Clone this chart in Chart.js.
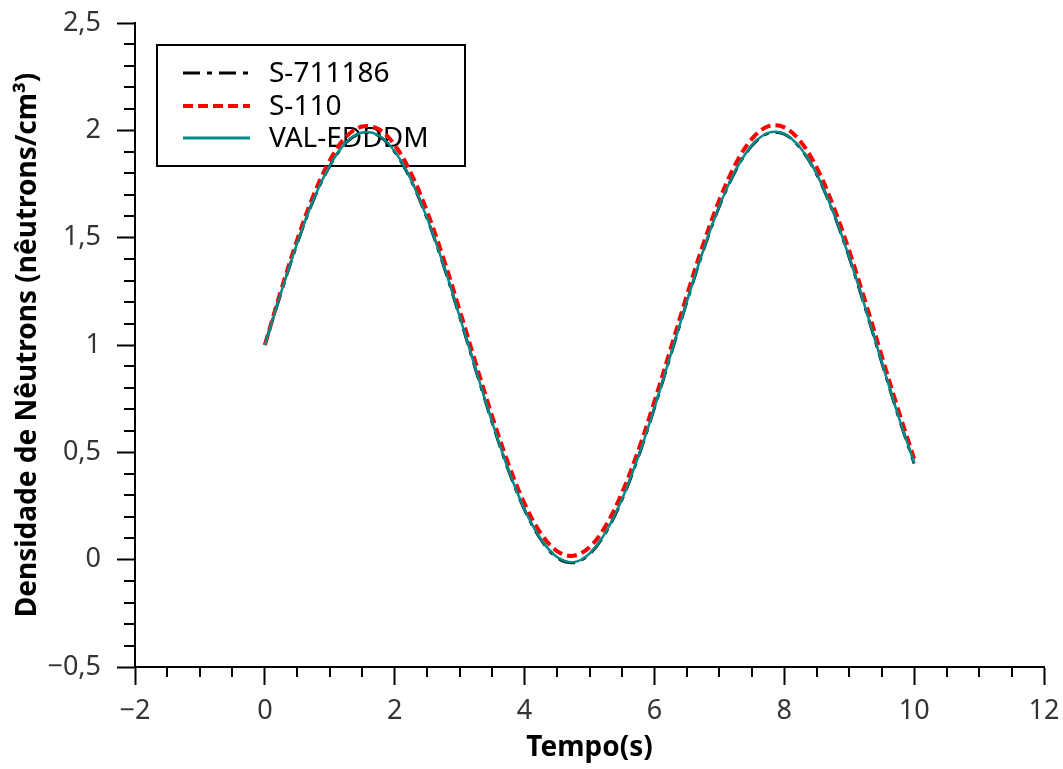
<!DOCTYPE html>
<html lang="pt">
<head>
<meta charset="UTF-8">
<title>Densidade de Nêutrons</title>
<script src="https://cdn.jsdelivr.net/npm/chart.js"></script>
<style>
    html, body { margin: 0; padding: 0; background: #fff; }
    #wrap { width: 1063px; height: 769px; }
</style>
</head>
<body>
<div id="wrap"><canvas id="grafico"></canvas></div>
<script>
    // tempo (s)
    const tempo = [0, 0.25, 0.5, 0.75, 1, 1.25, 1.5, 1.75, 2, 2.25, 2.5, 2.75, 3, 3.25, 3.5, 3.75,
        4, 4.25, 4.5, 4.75, 5, 5.25, 5.5, 5.75, 6, 6.25, 6.5, 6.75, 7, 7.25, 7.5, 7.75,
        8, 8.25, 8.5, 8.75, 9, 9.25, 9.5, 9.75, 10];

    // densidade de nêutrons para cada código
    const s711186 = [1.000, 1.243, 1.474, 1.676, 1.834, 1.942, 1.988, 1.975, 1.900, 1.768, 1.588,
        1.372, 1.131, 0.882, 0.639, 0.418, 0.232, 0.094, 0.010, -0.014, 0.026, 0.126, 0.279,
        0.477, 0.706, 0.952, 1.201, 1.437, 1.645, 1.812, 1.928, 1.986, 1.982, 1.916, 1.794,
        1.620, 1.407, 1.169, 0.919, 0.674, 0.448];
    const s110 = [1.000, 1.255, 1.492, 1.698, 1.860, 1.970, 2.018, 2.006, 1.932, 1.801, 1.621,
        1.405, 1.163, 0.913, 0.669, 0.447, 0.261, 0.123, 0.040, 0.018, 0.058, 0.158, 0.311,
        0.508, 0.737, 0.983, 1.232, 1.468, 1.676, 1.843, 1.960, 2.018, 2.014, 1.948, 1.826,
        1.652, 1.439, 1.200, 0.950, 0.703, 0.470];
    const valEdddm = [1.000, 1.245, 1.476, 1.678, 1.836, 1.944, 1.990, 1.977, 1.902, 1.770, 1.590,
        1.374, 1.133, 0.884, 0.641, 0.420, 0.234, 0.096, 0.012, -0.012, 0.028, 0.128, 0.281,
        0.479, 0.708, 0.954, 1.203, 1.439, 1.647, 1.814, 1.930, 1.988, 1.984, 1.918, 1.796,
        1.622, 1.409, 1.171, 0.921, 0.676, 0.450];

    // trecho mais grosso sobre o eixo x
    const baseX = [-2, 1.42];
    const baseY = [-0.5, -0.5];

    const nomes = ['S-711186', 'S-110', 'VAL-EDDDM'];

    const pontos = (xs, ys) => xs.map((x, i) => ({ x: x, y: ys[i] }));

    const fmt = v => (v < 0 ? '\u2212' : '') + String(Math.abs(v)).replace('.', ',');

    // traços menores dos eixos
    const minorTicks = {
        id: 'minorTicks',
        afterDraw(chart) {
            const ctx = chart.ctx;
            const xs = chart.scales.x, ys = chart.scales.y;
            ctx.save();
            ctx.strokeStyle = '#000';
            ctx.lineWidth = 2;
            ctx.beginPath();
            for (let v = -1.5; v < 12; v += 0.5) {
                if (Math.abs(v % 2) < 1e-9) continue;
                const px = Math.round(xs.getPixelForValue(v));
                ctx.moveTo(px, xs.top);
                ctx.lineTo(px, xs.top + 10);
            }
            for (let k = -4; k < 25; k++) {
                if (k % 5 === 0) continue;
                const py = Math.round(ys.getPixelForValue(k / 10));
                ctx.moveTo(ys.right, py);
                ctx.lineTo(ys.right - 11, py);
            }
            ctx.stroke();
            ctx.restore();
        }
    };

    // legenda em caixa, no canto superior esquerdo
    const legendaCaixa = {
        id: 'legendaCaixa',
        beforeDatasetsDraw(chart) {
            const ctx = chart.ctx;
            ctx.save();
            ctx.strokeStyle = '#000';
            ctx.lineWidth = 2;
            ctx.strokeRect(157, 45, 308, 121);
            ctx.font = '28px "Noto Sans"';
            ctx.textBaseline = 'middle';
            ctx.fillStyle = '#000';
            const linhas = [73, 106, 138];
            nomes.forEach((nome, i) => {
                const ds = chart.data.datasets[i];
                ctx.beginPath();
                ctx.strokeStyle = ds.borderColor;
                ctx.lineWidth = i === 1 ? 4 : 3;
                ctx.setLineDash(ds.borderDash || []);
                ctx.moveTo(183, linhas[i]);
                ctx.lineTo(250, linhas[i]);
                ctx.stroke();
                ctx.setLineDash([]);
                ctx.fillText(nome, 269, linhas[i] + 1);
            });
            ctx.restore();
        }
    };

    new Chart(document.getElementById('grafico'), {
        type: 'line',
        data: {
            datasets: [
                {
                    label: nomes[0],
                    data: pontos(tempo, s711186),
                    borderColor: '#000000',
                    borderWidth: 3,
                    borderDash: [17, 7, 5, 7],
                    order: 3
                },
                {
                    label: nomes[1],
                    data: pontos(tempo, s110),
                    borderColor: '#ff0000',
                    borderWidth: 4,
                    borderDash: [10, 5],
                    order: 2
                },
                {
                    label: nomes[2],
                    data: pontos(tempo, valEdddm),
                    borderColor: '#008b8b',
                    borderWidth: 2.5,
                    order: 1
                },
                {
                    label: '',
                    data: pontos(baseX, baseY),
                    borderColor: '#000000',
                    borderWidth: 2,
                    tension: 0,
                    clip: false,
                    order: 0
                }
            ]
        },
        options: {
            responsive: true,
            maintainAspectRatio: false,
            animation: false,
            layout: { padding: { top: 23, right: 19, left: 0, bottom: 0 } },
            elements: {
                point: { radius: 0 },
                line: { tension: 0.35, fill: false }
            },
            plugins: {
                legend: { display: false },
                tooltip: { enabled: false }
            },
            scales: {
                x: {
                    type: 'linear',
                    min: -2,
                    max: 12,
                    afterFit: s => {
                        s.height = 102;
                        s.paddingLeft = 0;
                        s.paddingRight = 0;
                    },
                    ticks: {
                        stepSize: 2,
                        callback: fmt,
                        color: '#333',
                        font: { family: 'Noto Sans', size: 27 },
                        padding: 10,
                        maxRotation: 0
                    },
                    grid: {
                        drawOnChartArea: false,
                        tickLength: 18,
                        tickWidth: 2,
                        tickColor: '#000'
                    },
                    border: { color: '#000', width: 2 },
                    title: {
                        display: true,
                        text: 'Tempo(s)',
                        color: '#000',
                        font: { family: 'Noto Sans', size: 28, weight: 'bold' },
                        padding: { top: 4, bottom: 4 }
                    }
                },
                y: {
                    min: -0.5,
                    max: 2.5,
                    afterFit: s => {
                        s.width = 135;
                        s.paddingTop = 0;
                        s.paddingBottom = 0;
                    },
                    ticks: {
                        stepSize: 0.5,
                        callback: fmt,
                        color: '#333',
                        font: { family: 'Noto Sans', size: 27 },
                        padding: 16
                    },
                    grid: {
                        drawOnChartArea: false,
                        tickLength: 18,
                        tickWidth: 2,
                        tickColor: '#000'
                    },
                    border: { color: '#000', width: 2 },
                    title: {
                        display: true,
                        text: 'Densidade de Nêutrons (nêutrons/cm³)',
                        color: '#000',
                        font: { family: 'Noto Sans', size: 28, weight: 'bold' },
                        padding: { top: 11, bottom: 11 }
                    }
                }
            }
        },
        plugins: [minorTicks, legendaCaixa]
    });
</script>
</body>
</html>
